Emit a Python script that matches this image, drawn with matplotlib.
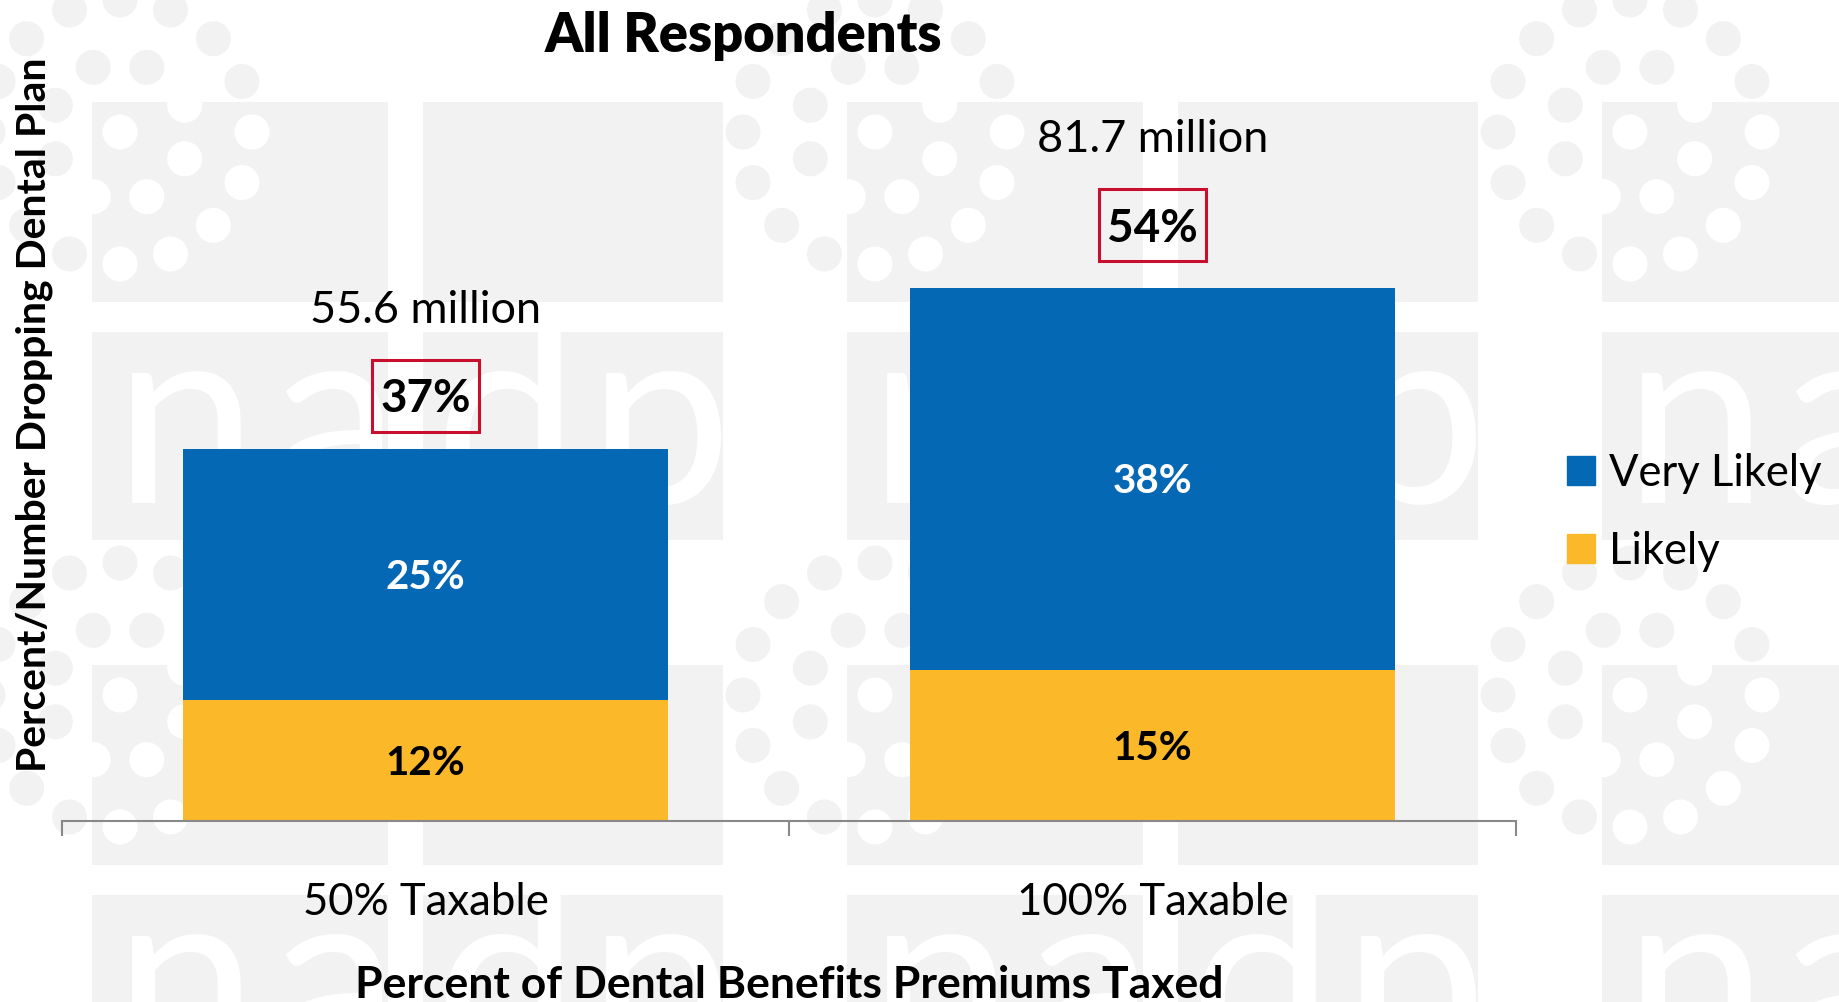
import numpy as np
import matplotlib.pyplot as plt
from matplotlib.patches import Rectangle, Circle, Patch

plt.rcParams['font.family'] = ['Lato', 'DejaVu Sans']

# survey results
categories = ['50% Taxable', '100% Taxable']
likely = [12, 15]
very_likely = [25, 38]
totals = [37, 54]
millions = ['55.6 million', '81.7 million']

blue = '#0568B5'
gold = '#FBB829'
red = '#C8102E'
tile = '#F2F2F2'

W, H = 1839, 1002
fig = plt.figure(figsize=(W / 100, H / 100), dpi=100)

#%% watermark background (pixel coordinates, origin top-left)
bg = fig.add_axes([0, 0, 1, 1], zorder=0)
bg.set_xlim(0, W)
bg.set_ylim(H, 0)
bg.axis('off')

blocks = []
for i in range(-1, 3):
    for x0, x1 in [(92, 388), (423, 723)]:
        for j in range(2):
            for y0, y1 in [(102, 302), (332, 540)]:
                blocks.append((x0 + 755 * i, y0 + 563 * j, x1 - x0, y1 - y0))
for x, y, w, h in blocks:
    bg.add_patch(Rectangle((x, y), w, h, color=tile, lw=0))


def on_block(px, py):
    return any(x <= px <= x + w and y <= py <= y + h for x, y, w, h in blocks)


ring = [(0.0, 0.0)]
ring += [(70 * np.cos(np.radians(22.5 + 45 * k)), 70 * np.sin(np.radians(22.5 + 45 * k))) for k in range(8)]
ring += [(132 * np.cos(np.radians(22.5 * k)), 132 * np.sin(np.radians(22.5 * k))) for k in range(16)]
for i in range(3):
    for j in range(2):
        cx, cy = 120 + 755 * i, 132 + 563 * j
        for dx, dy in ring:
            px, py = cx + dx, cy + dy
            bg.add_patch(Circle((px, py), 17.5, color='white' if on_block(px, py) else tile, lw=0))

for i in range(3):
    for j in range(2):
        for ch, lx in zip('nadp', [186, 335, 507, 660]):
            bg.text(lx + 755 * i, 503 + 563 * j, ch, color='white', fontsize=185,
                    ha='center', va='baseline')

#%% stacked bars
ax = fig.add_axes([62 / W, 1 - 821 / H, 1454 / W, 703.5 / H], zorder=2)
ax.patch.set_alpha(0)
x = np.arange(len(categories))
ax.bar(x, likely, width=0.666, color=gold, label='Likely')
ax.bar(x, very_likely, bottom=likely, width=0.666, color=blue, label='Very Likely')
ax.set_xlim(-0.5, 1.5)
ax.set_ylim(0, 70)

for xi, lo, hi, tot, mil in zip(x, likely, very_likely, totals, millions):
    ax.text(xi, lo / 2 - 1.4, f'{lo}%', ha='center', va='baseline', fontsize=29,
            fontweight='bold', color='black')
    ax.text(xi, lo + hi / 2 - 1.4, f'{hi}%', ha='center', va='baseline', fontsize=29,
            fontweight='bold', color='white')
    ax.add_patch(Rectangle((xi - 0.0735, tot + 5.3 - 3.6), 0.147, 7.2, fill=False,
                           ec=red, lw=2.2, clip_on=False))
    ax.text(xi, tot + 5.3 - 1.65, f'{tot}%', ha='center', va='baseline', fontsize=33,
            fontweight='bold', color='black')
    ax.text(xi, tot + 12.6, mil, ha='center', va='baseline', fontsize=32.5, color='black')

for s in ['left', 'top', 'right']:
    ax.spines[s].set_visible(False)
ax.spines['bottom'].set_color('#898989')
ax.spines['bottom'].set_linewidth(1.5)
ax.set_yticks([])
ax.set_xticks(x)
ax.set_xticklabels(categories, fontsize=31.5)
ax.set_xticks([-0.5, 0.5, 1.5], minor=True)
ax.tick_params(axis='x', which='major', length=0, pad=44)
ax.tick_params(axis='x', which='minor', length=10.8, width=1.5, color='#898989')

ax.set_ylabel('Percent/Number Dropping Dental Plan', fontsize=29.5, fontweight='bold')
ax.yaxis.set_label_coords(-0.0062, 0.577)

fig.text(789 / W, 1 - 998 / H, 'Percent of Dental Benefits Premiums Taxed',
         ha='center', va='baseline', fontsize=32, fontweight='bold')

fig.text(743 / W, 1 - 52 / H, 'All Respondents', ha='center', va='baseline',
         fontsize=39, fontweight='heavy')

handles = [Patch(color=blue), Patch(color=gold)]
fig.legend(handles, ['Very Likely', 'Likely'], loc='center left',
           bbox_to_anchor=(1567 / W, 1 - 512.5 / H), frameon=False, fontsize=31.4,
           handlelength=0.64, handleheight=0.64, handletextpad=0.32,
           labelspacing=0.85, borderpad=0, borderaxespad=0)

fig.savefig('out.png', dpi=100)
